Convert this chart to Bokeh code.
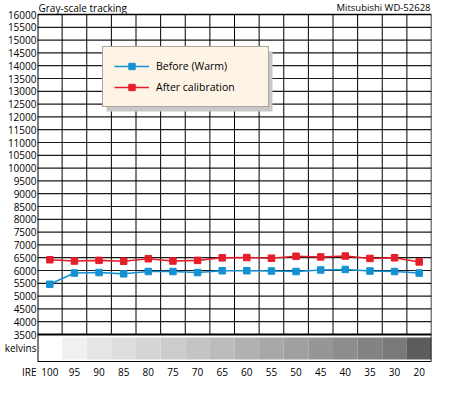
from bokeh.plotting import figure
from bokeh.models import FixedTicker, Label, Legend, LegendItem, Range1d
from bokeh.core.properties import value
from bokeh.embed import file_html
from bokeh.resources import INLINE

# ---- data ----
ire_labels = ["100", "95", "90", "85", "80", "75", "70", "65", "60", "55", "50", "45", "40", "35", "30", "20"]
before_warm = [5460, 5900, 5920, 5870, 5960, 5960, 5920, 5990, 5990, 5980, 5960, 6020, 6040, 5980, 5960, 5900]
after_cal = [6420, 6370, 6395, 6360, 6460, 6370, 6395, 6495, 6505, 6480, 6555, 6530, 6565, 6470, 6495, 6335]
y_ticks = list(range(3500, 16001, 500))
swatch_colors = [None, "#f0f0f0", "#e5e5e5", "#dddddd", "#d5d5d5", "#cccccc", "#c4c4c4", "#bbbbbb",
                 "#b1b1b1", "#a8a8a8", "#a0a0a0", "#969696", "#8d8d8d", "#838383", "#797979", "#5c5c5c"]

FONT = "Open Sans"
BLUE = "#1591d2"
RED = "#e61e2b"

# ---- layout (pixels) ----
W, H = 434, 378
ML, MR = 37, 3
TOP_PX = 14          # px from canvas top to the 16000 line
PX500 = 12.8         # px per 500 K
BAND_PX = 27         # height of the kelvins band
IRE_PX = 10          # IRE row centre below band bottom
TITLE_PX = 7         # title centre above the 16000 line

n = len(ire_labels)
xs = list(range(n))
fw = W - ML - MR
ux = n / fw
uy = 500 / PX500
Ytop, Ybot = y_ticks[-1], y_ticks[0]
Y1 = Ytop + TOP_PX * uy
Y0 = Ytop - (H - TOP_PX) * uy
Yband = Ybot - BAND_PX * uy
Yire = int(Yband - IRE_PX * uy)
Ykel = int((Ybot + Yband) / 2)
Ytitle = Ytop + TITLE_PX * uy
XL, XR = -0.5, n - 0.5

p = figure(width=W, height=H, output_backend="svg", toolbar_location=None,
           x_range=Range1d(XL, XR), y_range=Range1d(Y0, Y1),
           min_border_left=ML, min_border_right=MR, min_border_top=0, min_border_bottom=0)
p.xgrid.visible = False
p.ygrid.visible = False
p.xaxis.visible = False
p.outline_line_color = None
p.background_fill_color = "white"

# kelvins band swatches
bx, bc = [], []
for i, c in enumerate(swatch_colors):
    if c is not None:
        bx.append(i)
        bc.append(c)
p.quad(left=[x - 0.5 for x in bx], right=[x + 0.5 for x in bx],
       bottom=Yband + 2 * uy, top=Ybot - 3 * uy, fill_color=bc, line_color=None)

# grid
p.segment(x0=XL, x1=XR, y0=y_ticks[1:-1], y1=y_ticks[1:-1], line_color="#1a1a1a", line_width=1.2)
p.segment(x0=[x + 0.5 for x in xs[:-1]], x1=[x + 0.5 for x in xs[:-1]],
          y0=Ybot, y1=Ytop, line_color="black", line_width=1)
# frame border + shadow
p.segment(x0=[XR + 2 * ux], x1=[XR + 2 * ux], y0=[Yband - 2 * uy], y1=[Ytop - 2 * uy],
          line_color="#bdbdbd", line_width=2)
p.segment(x0=[XL, XL, XL, XL, XR], x1=[XR, XR, XR, XL, XR],
          y0=[Ytop, Ybot, Yband, Yband, Yband], y1=[Ytop, Ybot, Yband, Ytop, Ytop],
          line_color="black", line_width=[1.5, 2, 1.2, 2, 1.5])

# legend shadow
lg_left, lg_top, lg_w, lg_h = 65, 33, 166, 60
lg_bottom = H - TOP_PX - lg_top - lg_h
p.quad(left=XL + (lg_left + 4) * ux, right=XL + (lg_left + lg_w + 4) * ux,
       bottom=Y0 + (lg_bottom - 4) * uy, top=Y0 + (lg_bottom + lg_h - 4) * uy,
       fill_color="#c8c8c8", line_color=None)

# series
lb = p.line(xs, before_warm, line_color=BLUE, line_width=1.6)
sb = p.scatter(xs, before_warm, marker="square", size=6.5, fill_color=BLUE, line_color=BLUE)
la = p.line(xs, after_cal, line_color=RED, line_width=1.6)
sa = p.scatter(xs, after_cal, marker="square", size=6.5, fill_color=RED, line_color=RED)

legend = Legend(items=[LegendItem(label="Before (Warm)", renderers=[lb, sb]),
                       LegendItem(label="After calibration", renderers=[la, sa])],
                location=(lg_left, lg_bottom))
legend.background_fill_color = "#fdf4e6"
legend.background_fill_alpha = 1
legend.border_line_color = "#555555"
legend.border_line_width = 1
legend.label_text_font = FONT
legend.label_text_font_size = "10.5px"
legend.label_text_color = "black"
legend.glyph_width = 35
legend.glyph_height = 16
legend.label_height = 16
legend.label_width = 101
legend.spacing = 5
legend.padding = 11
legend.margin = 0
legend.label_standoff = 7
p.add_layout(legend)

# y axis (with the "kelvins" and "IRE" row captions)
p.yaxis.ticker = FixedTicker(ticks=y_ticks + [Ykel, Yire])
p.yaxis.major_label_overrides = {Ykel: "kelvins", Yire: "IRE"}
p.yaxis.axis_line_color = None
p.yaxis.major_tick_line_color = None
p.yaxis.minor_tick_line_color = None
p.yaxis.major_tick_in = 0
p.yaxis.major_tick_out = 0
p.yaxis.major_label_text_font = FONT
p.yaxis.major_label_text_font_size = "10px"
p.yaxis.major_label_text_color = "black"
p.yaxis.major_label_standoff = 1

# IRE category labels
p.text(x=xs, y=Yire, text=ire_labels, text_align="center", text_baseline="middle",
       text_font=value(FONT), text_font_size="10px", text_color="black")

# titles
p.add_layout(Label(x=XL, y=Ytitle, text="Gray-scale tracking", text_align="left",
                   text_baseline="middle", x_offset=1, text_font=FONT,
                   text_font_size="10px", text_color="black"))
p.add_layout(Label(x=XR, y=Ytitle, text="Mitsubishi WD-52628", text_align="right",
                   text_baseline="middle", x_offset=-1, text_font=FONT,
                   text_font_size="9.5px", text_color="black"))

open("out.html", "w").write(file_html(p, INLINE))
